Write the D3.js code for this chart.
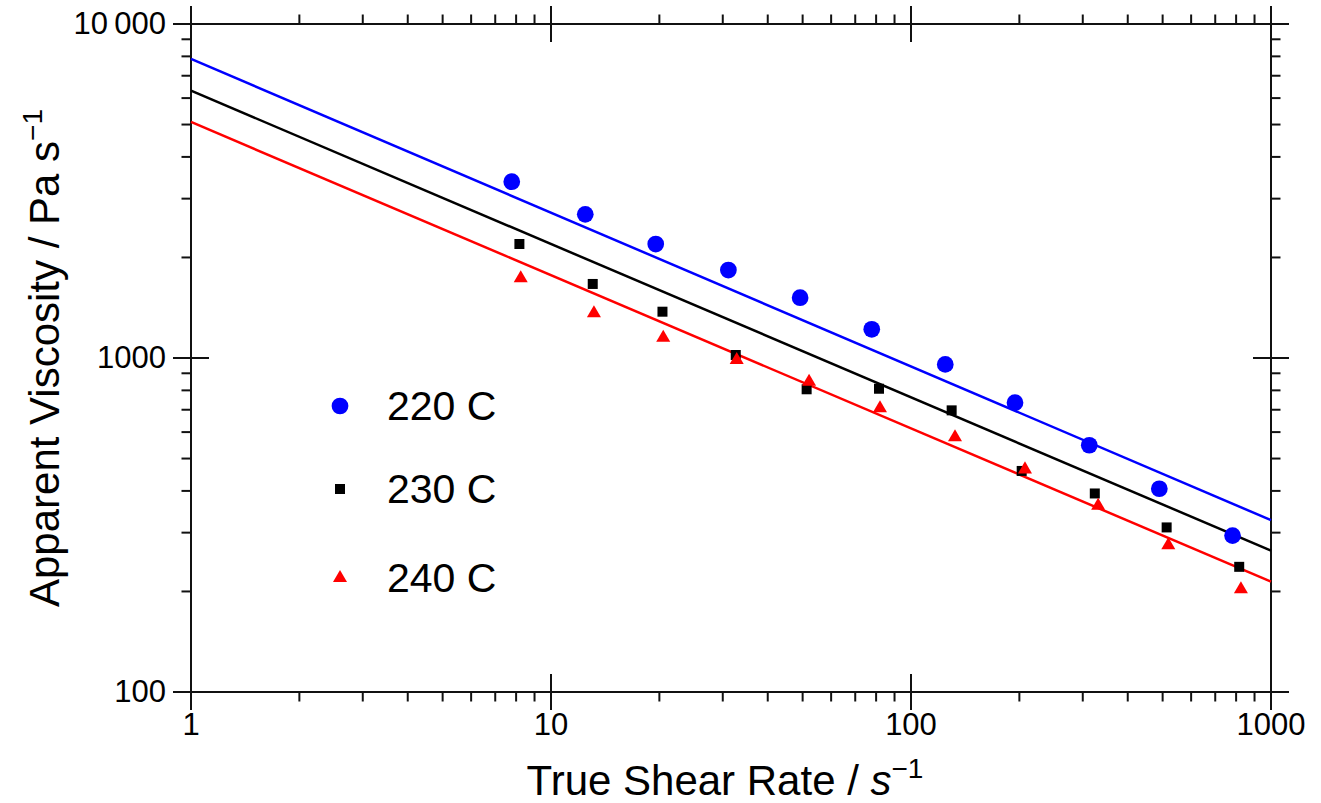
<!DOCTYPE html>
<html><head><meta charset="utf-8">
<script src="https://cdn.jsdelivr.net/npm/d3@7"></script>
<style>body{margin:0;background:#fff}svg{display:block}text{font-family:"Liberation Sans",Arial,sans-serif;fill:#000}</style>
</head><body><svg id="c" width="1321" height="803"></svg>
<script>
// Data
const series = ["220 C", "230 C", "240 C"];
const shear220 = [7.78, 12.45, 19.54, 31.1, 49.2, 77.8, 124.5, 194.5, 312.8, 489.5, 782];
const visc220  = [3371, 2693, 2194, 1834, 1515, 1219, 957, 735, 548, 406, 294];
const shear230 = [8.17, 13.06, 20.4, 32.6, 51.3, 81.5, 129.7, 203, 324, 513, 816];
const visc230  = [2194, 1666, 1376, 1021, 806, 809, 697, 459, 393, 311, 237];
const shear240 = [8.24, 13.16, 20.5, 32.8, 52.1, 82, 132.5, 207.3, 331, 518.5, 825];
const visc240  = [1732, 1361, 1150, 986, 849, 707, 579, 464, 361, 275, 203];
// power-law fit lines, value at shear rate 1 and 1000
const fitShear = [1, 1000];
const fit220 = [7860, 327];
const fit230 = [6315, 265];
const fit240 = [5090, 214];
const xMajor = [1, 10, 100, 1000];
const yMajor = [100, 1000, 10000];
const xTickLabels = ["1", "10", "100", "1000"];
const yTickLabels = ["100", "1000", "10\u2009000"];
const colors = ["#0000ff", "#000000", "#ff0000"];

const svg = d3.select("#c");
const L = 191, R = 1271, T = 24, B = 692;
const x = d3.scaleLog().domain([1, 1000]).range([L, R]);
const y = d3.scaleLog().domain([100, 10000]).range([B, T]);

const minorX = [], minorY = [];
[1, 10, 100].forEach(d => { for (let k = 2; k <= 9; k++) minorX.push(d * k); });
[100, 1000].forEach(d => { for (let k = 2; k <= 9; k++) minorY.push(d * k); });

const ax = svg.append("g").attr("stroke", "#111").attr("stroke-width", 2).attr("fill", "none");
ax.append("rect").attr("x", L).attr("y", T).attr("width", R - L).attr("height", B - T);
const mn = 9.5, mj = 18;
// minor ticks outward on all sides
minorX.forEach(v => {
  const px = x(v);
  ax.append("line").attr("x1", px).attr("x2", px).attr("y1", B).attr("y2", B + mn);
  ax.append("line").attr("x1", px).attr("x2", px).attr("y1", T).attr("y2", T - mn);
});
minorY.forEach(v => {
  const py = y(v);
  ax.append("line").attr("x1", L).attr("x2", L - mn).attr("y1", py).attr("y2", py);
  ax.append("line").attr("x1", R).attr("x2", R + mn).attr("y1", py).attr("y2", py);
});
// major ticks crossing
xMajor.forEach(v => {
  const px = x(v);
  ax.append("line").attr("x1", px).attr("x2", px).attr("y1", B - mj).attr("y2", B + mj);
  ax.append("line").attr("x1", px).attr("x2", px).attr("y1", T - mj).attr("y2", T + mj);
});
yMajor.forEach(v => {
  const py = y(v);
  ax.append("line").attr("x1", L - mj).attr("x2", L + mj).attr("y1", py).attr("y2", py);
  ax.append("line").attr("x1", R - mj).attr("x2", R + mj).attr("y1", py).attr("y2", py);
});

// tick labels
const fs = 31;
xMajor.forEach((v, i) => {
  svg.append("text").attr("x", x(v)).attr("y", B + 43).attr("text-anchor", "middle")
    .attr("font-size", fs).text(xTickLabels[i]);
});
yMajor.forEach((v, i) => {
  svg.append("text").attr("x", L - 25).attr("y", y(v) + 10).attr("text-anchor", "end")
    .attr("font-size", fs).text(yTickLabels[i]);
});

// axis titles
const xt = svg.append("text").attr("x", (L + R) / 2 - 6).attr("y", 795).attr("text-anchor", "middle").attr("font-size", 42);
xt.append("tspan").text("True Shear Rate / ");
xt.append("tspan").attr("font-style", "italic").text("s");
xt.append("tspan").attr("font-size", 28).attr("dy", -17).text("\u22121");

const yt = svg.append("text").attr("transform", `translate(59,${(T + B) / 2}) rotate(-90)`)
  .attr("text-anchor", "middle").attr("font-size", 42);
yt.append("tspan").text("Apparent Viscosity / Pa s");
yt.append("tspan").attr("font-size", 28).attr("dy", -17).text("\u22121");

// fit lines
const line = d3.line().x(d => x(d[0])).y(d => y(d[1]));
[fit220, fit230, fit240].forEach((f, i) => {
  svg.append("path").datum(fitShear.map((s, j) => [s, f[j]]))
    .attr("d", line).attr("fill", "none").attr("stroke", colors[i]).attr("stroke-width", 2.5);
});

// markers
const sym = [d3.symbol().type(d3.symbolCircle).size(220),
             d3.symbol().type(d3.symbolSquare).size(100),
             d3.symbol().type(d3.symbolTriangle).size(85)];
const data = [[shear220, visc220], [shear230, visc230], [shear240, visc240]];
data.forEach((s, i) => {
  svg.append("g").selectAll("path").data(s[0].map((v, j) => [v, s[1][j]])).join("path")
    .attr("transform", d => `translate(${x(d[0])},${y(d[1])})`)
    .attr("d", sym[i]).attr("fill", colors[i]);
});

// legend
const legY = [406, 489, 578];
series.forEach((name, i) => {
  svg.append("path").attr("transform", `translate(340,${legY[i]})`).attr("d", sym[i]).attr("fill", colors[i]);
  svg.append("text").attr("x", 387).attr("y", legY[i] + 14).attr("font-size", 41).text(name);
});
</script></body></html>
